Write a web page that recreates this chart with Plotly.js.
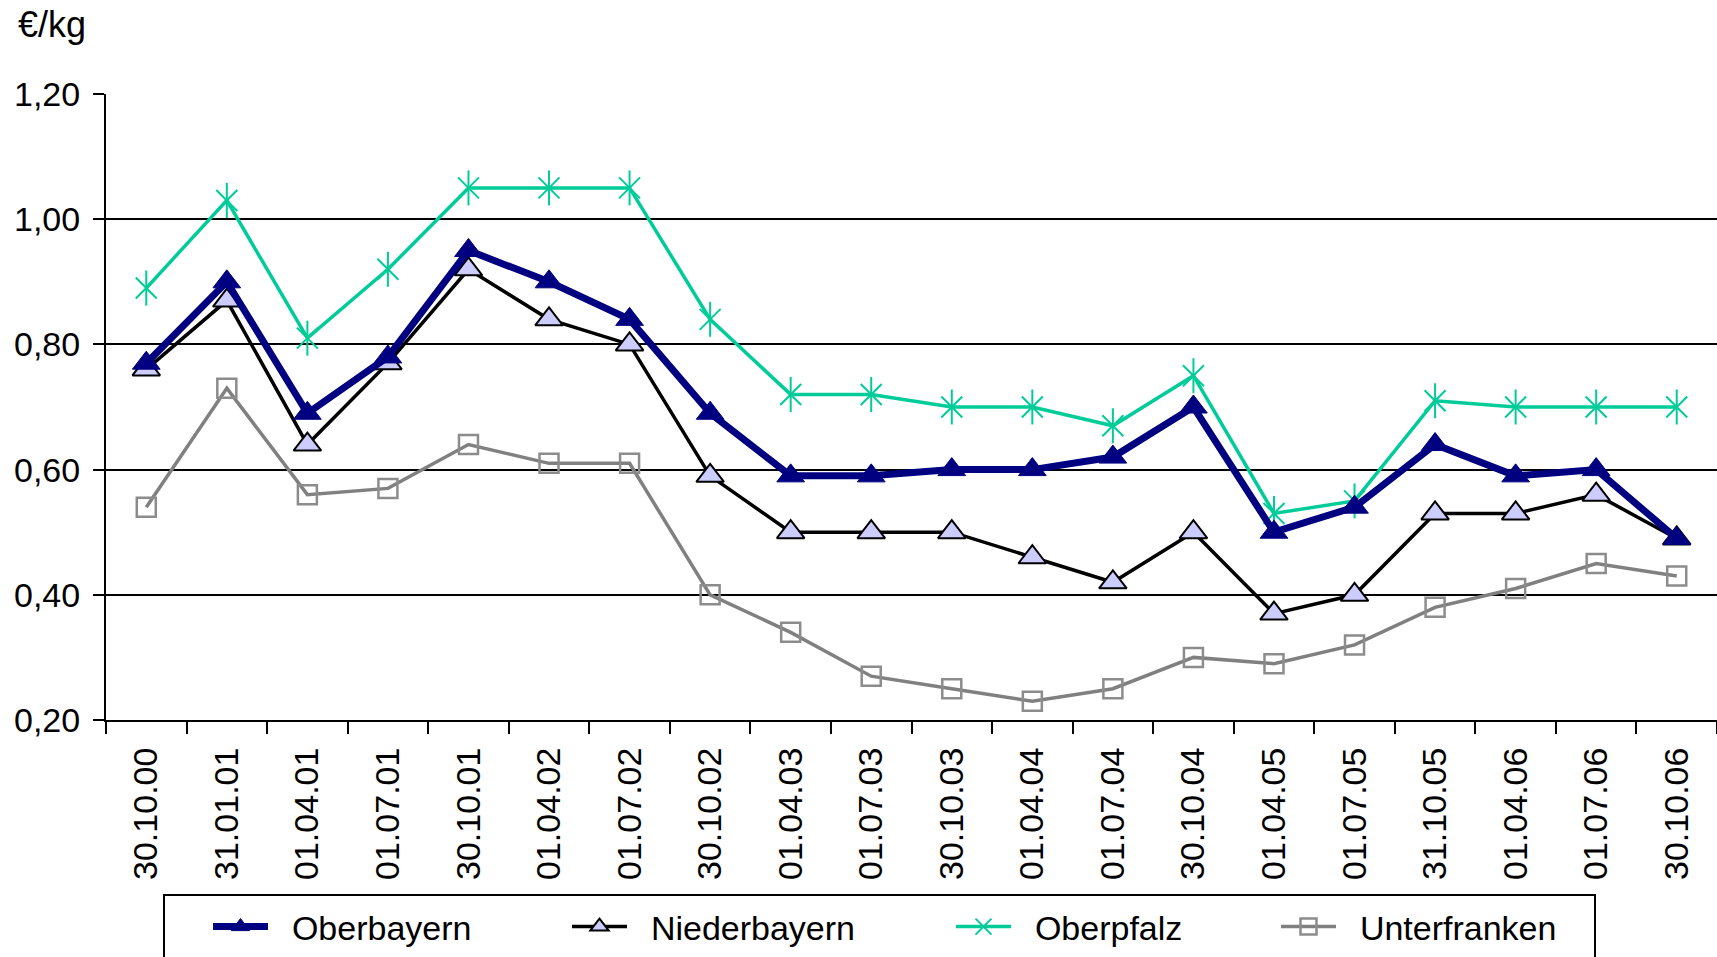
<!DOCTYPE html>
<html>
<head>
<meta charset="utf-8">
<script src="https://cdn.plot.ly/plotly-3.0.1.min.js"></script>
<style>html,body{margin:0;padding:0;background:#fff;}#chart{width:1717px;height:957px;}</style>
</head>
<body>
<div id="chart"></div>
<script>
const dates = ["30.10.00","31.01.01","01.04.01","01.07.01","30.10.01","01.04.02","01.07.02","30.10.02","01.04.03","01.07.03","30.10.03","01.04.04","01.07.04","30.10.04","01.04.05","01.07.05","31.10.05","01.04.06","01.07.06","30.10.06"];
const oberbayern   = [0.77,0.90,0.69,0.78,0.95,0.90,0.84,0.69,0.59,0.59,0.60,0.60,0.62,0.70,0.50,0.54,0.64,0.59,0.60,0.49];
const niederbayern = [0.76,0.87,0.64,0.77,0.92,0.84,0.80,0.59,0.50,0.50,0.50,0.46,0.42,0.50,0.37,0.40,0.53,0.53,0.56,0.49];
const oberpfalz    = [0.89,1.03,0.81,0.92,1.05,1.05,1.05,0.84,0.72,0.72,0.70,0.70,0.67,0.75,0.53,0.55,0.71,0.70,0.70,0.70];
const unterfranken = [0.54,0.73,0.56,0.57,0.64,0.61,0.61,0.40,0.34,0.27,0.25,0.23,0.25,0.30,0.29,0.32,0.38,0.41,0.45,0.43];
const yTicks = [0.2,0.4,0.6,0.8,1.0,1.2];

const FONT = "Liberation Sans, Arial, sans-serif";
const FS = 34;
const GAP = "\u00a0\u00a0";
const traces = [
  {name:GAP+"Unterfranken", x:dates, y:unterfranken, type:"scatter", mode:"lines+markers", legendwidth:247,
   line:{color:"#808080", width:3.5}, marker:{symbol:"square-open", size:19, color:"#8c8c8c", line:{width:2.5}}, legendrank:4},
  {name:GAP+"Oberpfalz", x:dates, y:oberpfalz, type:"scatter", mode:"lines+markers", legendgroup:"opf", legendwidth:255,
   line:{color:"#00CC99", width:3.5}, marker:{symbol:"x-thin-open", size:21, color:"#00CC99", line:{width:2, color:"#00CC99"}}, legendrank:3},
  {name:"Oberpfalz", x:dates, y:oberpfalz, type:"scatter", mode:"markers", legendgroup:"opf", showlegend:false,
   marker:{symbol:"line-ns-open", size:25, color:"#00CC99", line:{width:2, color:"#00CC99"}}},
  {name:GAP+"Niederbayern", x:dates, y:niederbayern, type:"scatter", mode:"lines+markers", legendwidth:314,
   line:{color:"#000000", width:3.5}, marker:{symbol:"triangle-up", size:24, color:"#CCCCFF", line:{width:2, color:"#000000"}}, legendrank:2},
  {name:GAP+"Oberbayern", x:dates, y:oberbayern, type:"scatter", mode:"lines+markers", legendwidth:289,
   line:{color:"#000080", width:7}, marker:{symbol:"triangle-up", size:24, color:"#000080", line:{width:1, color:"#000080"}}, legendrank:1}
];

const W = 1717, H = 957, ML = 106, MT = 94, MB = 237;
const PW = W - ML, PH = H - MT - MB;
const layout = {
  width:W, height:H,
  paper_bgcolor:"#fff", plot_bgcolor:"#fff",
  separators:",.",
  font:{family:FONT, size:FS, color:"#000"},
  margin:{l:ML, r:0, t:MT, b:MB, autoexpand:false},
  title:{text:"€/kg", x:18/W, xanchor:"left", xref:"container", y:1-24/H, yanchor:"middle", yref:"container",
         font:{family:FONT, size:36, color:"#000"}},
  showlegend:true,
  legend:{orientation:"h", x:(208-ML)/PW, xanchor:"left", y:-(898-(H-MB))/PH, yanchor:"top",
          borderwidth:0, bgcolor:"rgba(0,0,0,0)", itemwidth:55,
          font:{family:FONT, size:FS, color:"#000"}, traceorder:"normal", itemclick:false},
  shapes:[{type:"rect", xref:"paper", yref:"paper", layer:"below",
           x0:(164-ML)/PW, x1:(1595-ML)/PW, y0:-(895-(H-MB))/PH, y1:-(1000-(H-MB))/PH,
           line:{color:"#000", width:2}, fillcolor:"#fff"}],
  xaxis:{type:"category", range:[-0.5, dates.length-0.5], tickson:"boundaries", ticks:"outside", ticklen:12, tickwidth:2, tickcolor:"#000",
         showline:true, linecolor:"#000", linewidth:2, showgrid:false, tickangle:-90,
         ticklabelstandoff:12, tickfont:{family:FONT, size:FS, color:"#000"}, fixedrange:true},
  yaxis:{range:[0.2,1.2], tickvals:yTicks, tickformat:".2f", ticks:"outside", ticklen:11, tickwidth:2, tickcolor:"#000",
         showline:true, linecolor:"#000", linewidth:2, showgrid:true, gridcolor:"#000", gridwidth:2, zeroline:false,
         ticklabelstandoff:6, tickfont:{family:FONT, size:FS, color:"#000"}, fixedrange:true}
};
Plotly.newPlot("chart", traces, layout, {displayModeBar:false, staticPlot:true});
</script>
</body>
</html>
